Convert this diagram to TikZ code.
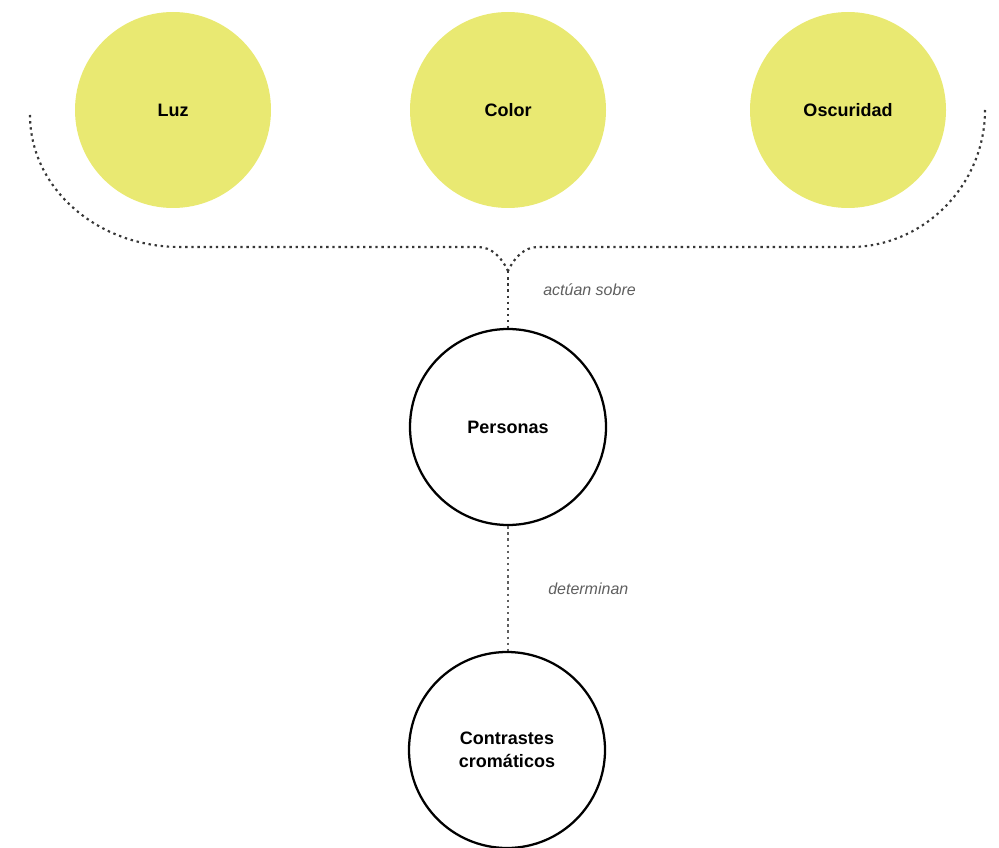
\documentclass[tikz,border=0pt]{standalone}
\usepackage{fontspec}
\setmainfont{Liberation Sans}
\definecolor{sun}{RGB}{233,233,114}
\definecolor{dotline}{RGB}{55,55,55}
\definecolor{labelgray}{RGB}{95,95,95}
\begin{document}
\begin{tikzpicture}[x=0.75pt,y=-0.75pt,
  concept/.style={circle,fill=sun,draw=none,minimum size=147pt,inner sep=0pt,
    font=\fontsize{13.5}{17}\selectfont\bfseries,align=center},
  result/.style={circle,draw=black,line width=1.7pt,fill=white,minimum size=147pt,inner sep=0pt,
    font=\fontsize{13.5}{17}\selectfont\bfseries,align=center},
  dotted link/.style={draw=dotline,line width=1.6pt,dash pattern=on 1.8pt off 2.8pt},
  verb/.style={text=labelgray,font=\fontsize{12}{14}\selectfont\itshape,anchor=west,inner sep=0pt}]
  \useasboundingbox (0,0) rectangle (999,848);

  % three source concepts
  \node[concept] (luz) at (173,110) {Luz};
  \node[concept] (color) at (508,110) {Color};
  \node[concept] (oscuridad) at (848,110) {Oscuridad};

  % people and result
  \node[result] (personas) at (508,427) {Personas};
  \node[result] (contrastes) at (507,750) {Contrastes\\cromáticos};

  % brace gathering the three concepts
  \coordinate (lt) at (30,115);
  \coordinate (rt) at (985,110);
  \coordinate (junction) at (508,271);
  \draw[dotted link] (lt) .. controls (30,188) and (97,247) .. (180,247)
    -- (478,247) .. controls (492,247) and (502,258) .. (junction);
  \draw[dotted link] (rt) .. controls (985,185) and (924,247) .. (850,247)
    -- (538,247) .. controls (524,247) and (514,258) .. (junction);
  \draw[dotted link] (junction) -- (personas.north);
  \node[verb] (l1) at (543,290) {actúan sobre};

  \draw[dotted link,draw=labelgray] (personas.south) -- (personas.south |- contrastes.north);
  \node[verb] (l2) at (548,589) {determinan};
\end{tikzpicture}
\end{document}
